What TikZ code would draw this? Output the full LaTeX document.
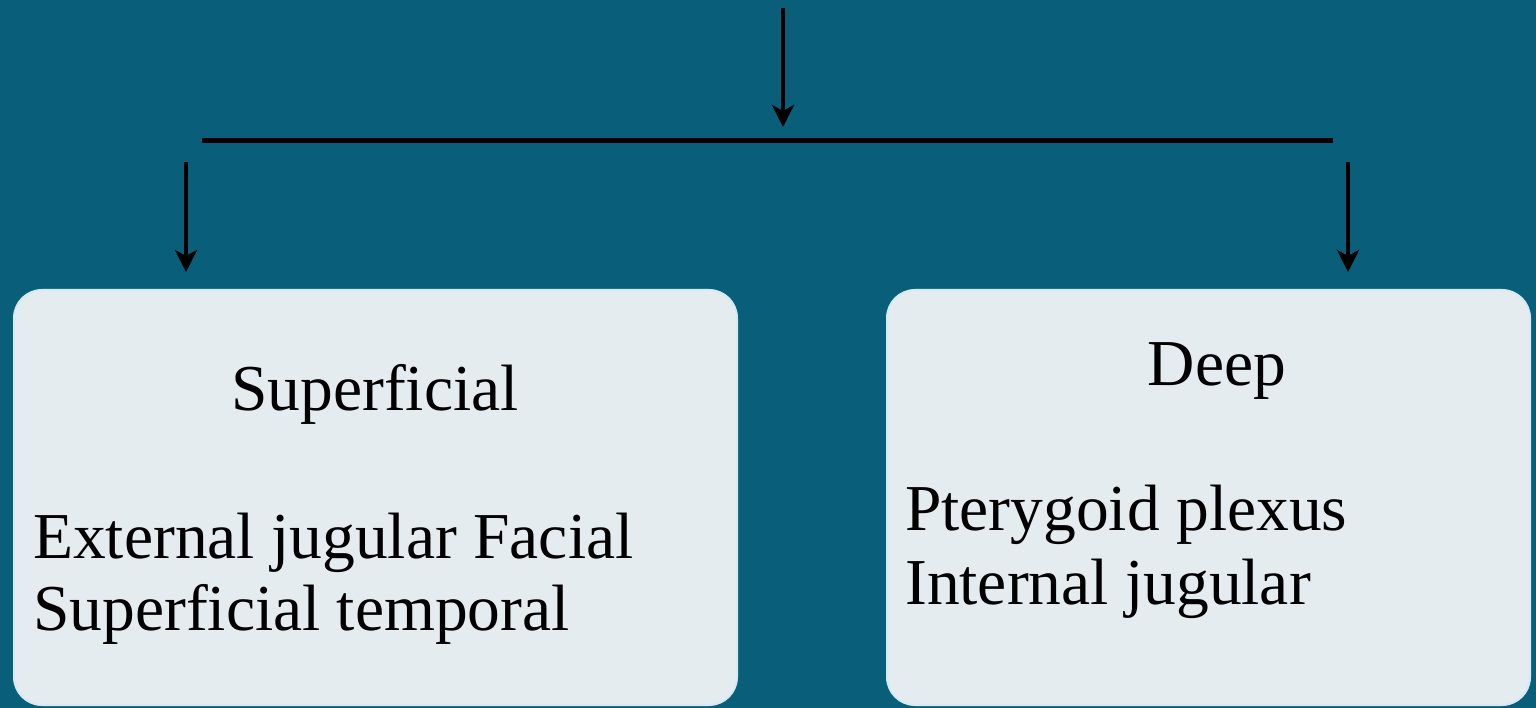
\documentclass[tikz,border=0pt]{standalone}
\usepackage{fontspec}
\setmainfont{Liberation Serif}
\usetikzlibrary{arrows.meta}
\definecolor{bgteal}{RGB}{9,95,122}
\definecolor{boxfill}{RGB}{229,236,240}
\definecolor{boxedge}{RGB}{212,234,246}
\tikzset{
  box/.style={draw=boxedge, line width=2pt, fill=boxfill, rounded corners=28pt, inner sep=0pt},
  txt/.style={inner sep=0pt, font=\fontsize{65.5}{72}\selectfont, text=black},
  arr/.style={line width=4pt, -{Stealth[length=22pt,width=22pt,inset=6pt]}},
  bar/.style={line width=5pt}
}
\begin{document}
\begin{tikzpicture}[x=1pt,y=-1pt]
\fill[bgteal] (0,0) rectangle (1536,708);
\useasboundingbox (0,0) rectangle (1536,708);
% boxes
\node[box, minimum width=723pt, minimum height=415pt] (sup) at (375.5,497.5) {};
\node[box, minimum width=643pt, minimum height=415pt] (deep) at (1208.5,497.5) {};
% texts
\node[txt, anchor=base] (supT) at (375,410) {Superficial};
\node[txt, anchor=base west] (sup1) at (33,558) {External jugular Facial};
\node[txt, anchor=base west] (sup2) at (33,630) {Superficial temporal};
\node[txt, anchor=base] (deepT) at (1217,385) {Deep};
\node[txt, anchor=base west] (deep1) at (905,530) {Pterygoid plexus};
\node[txt, anchor=base west] (deep2) at (905,604) {Internal jugular};
% connectors
\coordinate (topS) at (783,8);
\coordinate (topE) at (783,127);
\coordinate (barL) at (202,141);
\coordinate (barR) at (1333,141);
\coordinate (lS) at (186,162);
\coordinate (lE) at (186,272);
\coordinate (rS) at (1348,162);
\coordinate (rE) at (1348,272);
\draw[arr] (topS) -- (topE);
\draw[bar] (barL) -- (barR);
\draw[arr] (lS) -- (lE);
\draw[arr] (rS) -- (rE);
\end{tikzpicture}
\end{document}
